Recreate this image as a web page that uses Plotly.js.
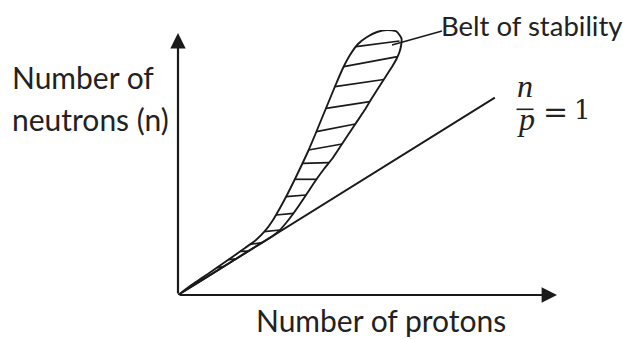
<!DOCTYPE html>
<html>
<head>
<meta charset="utf-8">
<script src="https://cdn.plot.ly/plotly-3.0.1.min.js"></script>
<style>html,body{margin:0;padding:0;background:#fff;}#chart{width:623px;height:339px;}</style>
</head>
<body>
<div id="chart"></div>
<script>
// Belt of stability outline (protons, neutrons) — schematic units, traced round the belt
var beltX = [0, 4.49, 8.44, 11.08, 14.51, 17.68, 20.58, 22.96, 25.07, 26.91, 28.76, 30.61, 32.45, 34.30, 36.15, 37.99, 39.84, 41.69, 43.54, 45.38, 47.49, 49.87, 52.51, 55.15, 57.65, 58.97,
             58.89, 58.44, 57.65, 56.60, 55.41, 54.22, 53.03, 51.85, 50.53, 49.08, 46.97, 44.85, 42.74, 40.63, 38.52, 36.41, 34.30, 32.19, 30.34, 28.50, 26.65, 24.8, 19.0, 11.08, 0];
var beltY = [0, 5.29, 9.53, 12.49, 16.31, 19.91, 23.30, 27.11, 31.77, 36.85, 42.36, 48.28, 54.43, 60.78, 67.77, 74.97, 82.17, 89.37, 96.15, 101.65, 106.31, 109.28, 111.39, 112.24, 111.61, 108.64,
             105.89, 102.92, 99.96, 96.99, 94.03, 91.06, 88.10, 85.13, 81.74, 77.93, 72.85, 67.77, 62.69, 57.60, 53.37, 48.71, 43.63, 38.54, 34.31, 30.50, 27.11, 24.8, 19.0, 11.08, 0];
// Hatch segments inside the belt (start and end points)
var hatchX1 = [46.97, 43.72, 41.40, 39.05, 36.52, 34.46, 32.85, 30.82, 28.52, 25.83, 22.77, 19.0, 16.4, 13.3, 10.3];
var hatchY1 = [105.17, 96.70, 88.22, 79.08, 69.17, 61.41, 55.78, 49.0, 41.63, 33.88, 26.81, 21.45, 18.46, 14.96, 11.62];
var hatchX2 = [58.44, 57.92, 54.30, 50.58, 46.79, 43.27, 39.84, 36.54, 33.77, 30.47, 26.89, 22.2, 18.6, 15.3, 12.0];
var hatchY2 = [107.58, 100.93, 91.28, 81.87, 72.43, 63.96, 56.04, 49.0, 42.36, 34.60, 27.53, 22.2, 18.6, 15.3, 12.0];
// n/p = 1 line
var ratioX = [0, 83.6];
var ratioY = [0, 83.6];
// Labels
var xLabel = 'Number of protons';
var yLabel1 = 'Number of';
var yLabel2 = 'neutrons (n)';
var beltLabel = 'Belt of stability';

var W = 623, H = 339;
var M = {l: 178, r: 66, t: 30, b: 44};
var pw = W - M.l - M.r, ph = H - M.t - M.b;
var yScale = 2.361; // px per neutron unit
function paperX(px) { return (px - M.l) / pw; }
function paperY(py) { return (H - M.b - py) / ph; }

var hx = [], hy = [];
for (var i = 0; i < hatchX1.length; i++) {
  hx.push(hatchX1[i], hatchX2[i], null);
  hy.push(hatchY1[i], hatchY2[i], null);
}

var ink = '#1a1a1a';
var traces = [
  {x: ratioX, y: ratioY, mode: 'lines', line: {color: ink, width: 1.9}, hoverinfo: 'skip', cliponaxis: false},
  {x: beltX, y: beltY, mode: 'lines', line: {color: ink, width: 1.9, shape: 'spline', smoothing: 0.6}, hoverinfo: 'skip', cliponaxis: false},
  {x: hx, y: hy, mode: 'lines', line: {color: ink, width: 1.7}, connectgaps: false, hoverinfo: 'skip', cliponaxis: false}
];

var fam = 'Lato, "Open Sans", sans-serif';
var txtFont = {family: fam, size: 30, color: '#222'};
var mathFam = '"Liberation Serif", "DejaVu Serif", serif';
var mathFam2 = '"DejaVu Serif", "Liberation Serif", serif';

var layout = {
  width: W, height: H,
  margin: M,
  paper_bgcolor: '#fff', plot_bgcolor: '#fff',
  showlegend: false,
  xaxis: {range: [0, 100], showgrid: false, zeroline: false, showticklabels: false, ticks: '', showline: false, fixedrange: true},
  yaxis: {range: [0, ph / yScale], showgrid: false, zeroline: false, showticklabels: false, ticks: '', showline: false, fixedrange: true},
  shapes: [
    {type: 'line', xref: 'paper', yref: 'paper', x0: paperX(392), y0: paperY(45), x1: paperX(442), y1: paperY(31), line: {color: ink, width: 1.6}},
    {type: 'line', xref: 'paper', yref: 'paper', x0: paperX(516.5), y0: paperY(109.3), x1: paperX(533.5), y1: paperY(109.3), line: {color: '#222', width: 1.6}}
  ],
  annotations: [
    {x: 100, y: 0, ax: 0, ay: 0, xref: 'x', yref: 'y', axref: 'x', ayref: 'y', text: '', showarrow: true, arrowhead: 2, arrowsize: 1.4, arrowwidth: 2.2, arrowcolor: ink, standoff: 0},
    {x: 0, y: (H - M.b - 33) / yScale, ax: 0, ay: 0, xref: 'x', yref: 'y', axref: 'x', ayref: 'y', text: '', showarrow: true, arrowhead: 2, arrowsize: 1.4, arrowwidth: 2.2, arrowcolor: ink, standoff: 0},
    {x: paperX(381), y: paperY(320), xref: 'paper', yref: 'paper', text: xLabel, showarrow: false, font: txtFont, xanchor: 'center', yanchor: 'middle'},
    {x: paperX(10), y: paperY(77), xref: 'paper', yref: 'paper', text: yLabel1, showarrow: false, font: txtFont, xanchor: 'left', yanchor: 'middle'},
    {x: paperX(10), y: paperY(119), xref: 'paper', yref: 'paper', text: yLabel2, showarrow: false, font: txtFont, xanchor: 'left', yanchor: 'middle'},
    {x: paperX(439), y: paperY(25), xref: 'paper', yref: 'paper', text: beltLabel, showarrow: false, font: {family: fam, size: 27.5, color: '#222'}, xanchor: 'left', yanchor: 'middle'},
    {x: paperX(525), y: paperY(86), xref: 'paper', yref: 'paper', text: '<i>n</i>', showarrow: false, font: {family: mathFam, size: 32, color: '#222'}, xanchor: 'center', yanchor: 'middle'},
    {x: paperX(525.5), y: paperY(119), xref: 'paper', yref: 'paper', text: '<i>p</i>', showarrow: false, font: {family: mathFam, size: 32, color: '#222'}, xanchor: 'center', yanchor: 'middle'},
    {x: paperX(555), y: paperY(111), xref: 'paper', yref: 'paper', text: '=', showarrow: false, font: {family: mathFam2, size: 30, color: '#222'}, xanchor: 'center', yanchor: 'middle'},
    {x: paperX(582), y: paperY(110), xref: 'paper', yref: 'paper', text: '1', showarrow: false, font: {family: mathFam2, size: 26, color: '#222'}, xanchor: 'center', yanchor: 'middle'}
  ]
};

Plotly.newPlot('chart', traces, layout, {staticPlot: true, displayModeBar: false});
</script>
</body>
</html>
